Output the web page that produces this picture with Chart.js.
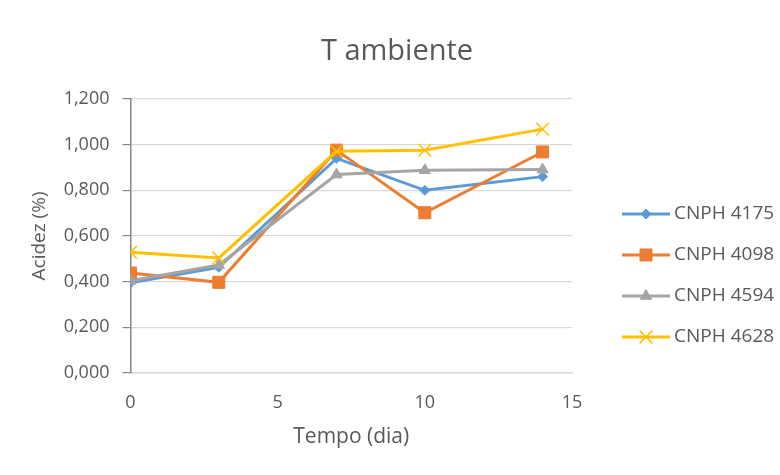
<!DOCTYPE html>
<html>
<head>
<meta charset="utf-8">
<script src="https://cdn.jsdelivr.net/npm/chart.js@4/dist/chart.umd.min.js"></script>
<style>
  html, body { margin: 0; padding: 0; background: #ffffff; }
  #wrap { width: 780px; height: 475px; }
</style>
</head>
<body>
<div id="wrap"><canvas id="c" width="780" height="475"></canvas></div>
<script>
// Days of storage (x axis)
const days = [0, 3, 7, 10, 14];

// Acidity (%) per cultivar
const cnph4175 = [0.395, 0.463, 0.940, 0.800, 0.860];
const cnph4098 = [0.438, 0.397, 0.976, 0.702, 0.968];
const cnph4594 = [0.404, 0.473, 0.869, 0.888, 0.891];
const cnph4628 = [0.529, 0.504, 0.971, 0.976, 1.068];

const seriesNames = ['CNPH 4175', 'CNPH 4098', 'CNPH 4594', 'CNPH 4628'];
const yTicks = [0, 0.2, 0.4, 0.6, 0.8, 1.0, 1.2];
const xTicks = [0, 5, 10, 15];
const chartTitle = 'T ambiente';

const FONT = '"Open Sans", "DejaVu Sans", sans-serif';
const TEXT = '#595959';

function pts(vals) {
  return days.map((d, i) => ({ x: d, y: vals[i] }));
}

const styles = [
  { color: '#5B9BD5', pointStyle: 'rectRot', radius: 5 },
  { color: '#ED7D31', pointStyle: 'rect', radius: 8.5 },
  { color: '#A5A5A5', pointStyle: 'triangle', radius: 6.5 },
  { color: '#FFC000', pointStyle: 'crossRot', radius: 9 }
];

const values = [cnph4175, cnph4098, cnph4594, cnph4628];

const datasets = values.map((v, i) => ({
  label: seriesNames[i],
  data: pts(v),
  borderColor: styles[i].color,
  backgroundColor: styles[i].color,
  pointBackgroundColor: styles[i].color,
  pointBorderColor: styles[i].color,
  pointStyle: styles[i].pointStyle,
  pointRadius: styles[i].radius,
  pointBorderWidth: styles[i].pointStyle === 'crossRot' ? 1.5 : 1,
  borderWidth: 3,
  tension: 0,
  order: values.length - i
}));

// Title centred over the whole figure, legend on the right
// (short line with the marker in the middle)
const decorations = {
  id: 'decorations',
  afterDraw(chart) {
    const ctx = chart.ctx;
    ctx.save();
    ctx.fillStyle = TEXT;
    ctx.font = '29px ' + FONT;
    ctx.textAlign = 'center';
    ctx.textBaseline = 'alphabetic';
    ctx.fillText(chartTitle, 397, 60);

    const x0 = 622, x1 = 670, top = 214, step = 41;
    chart.data.datasets.forEach((ds, i) => {
      const y = top + i * step;
      ctx.strokeStyle = ds.borderColor;
      ctx.lineWidth = 3;
      ctx.beginPath();
      ctx.moveTo(x0, y);
      ctx.lineTo(x1, y);
      ctx.stroke();
      ctx.fillStyle = ds.pointBackgroundColor;
      ctx.strokeStyle = ds.pointBorderColor;
      ctx.lineWidth = ds.pointBorderWidth;
      Chart.helpers.drawPoint(ctx, { pointStyle: ds.pointStyle, radius: ds.pointRadius, rotation: 0, borderWidth: ds.pointBorderWidth }, (x0 + x1) / 2, y);
      ctx.fillStyle = TEXT;
      ctx.font = '19px ' + FONT;
      ctx.textAlign = 'left';
      ctx.textBaseline = 'middle';
      ctx.fillText(ds.label, x1 + 4, y);
    });
    ctx.restore();
  }
};

new Chart(document.getElementById('c'), {
  type: 'line',
  data: { datasets },
  plugins: [decorations],
  options: {
    responsive: false,
    animation: false,
    devicePixelRatio: 1,
    layout: { padding: { left: 0, right: 208, top: 99, bottom: 25 } },
    plugins: {
      legend: { display: false },
      tooltip: { enabled: false },
      title: { display: false }
    },
    scales: {
      x: {
        type: 'linear',
        min: 0,
        max: 15,
        afterBuildTicks(scale) { scale.ticks = xTicks.map(v => ({ value: v })); },
        afterFit(scale) { scale.height = 77; },
        grid: { display: false, drawTicks: false },
        border: { display: true, color: '#D9D9D9', width: 1.5 },
        ticks: {
          color: TEXT,
          font: { family: FONT, size: 18 },
          padding: 19,
          maxRotation: 0
        },
        title: {
          display: true,
          text: 'Tempo (dia)',
          color: TEXT,
          font: { family: FONT, size: 21 },
          padding: { top: 0, bottom: 0 }
        }
      },
      y: {
        min: 0,
        max: 1.2,
        afterBuildTicks(scale) { scale.ticks = yTicks.map(v => ({ value: v })); },
        afterFit(scale) { scale.width = 130.5; },
        grid: {
          color: '#D9D9D9',
          lineWidth: 1.2,
          tickColor: '#868686',
          tickLength: 8
        },
        border: { display: true, color: '#868686', width: 1.5 },
        ticks: {
          color: TEXT,
          font: { family: FONT, size: 18 },
          padding: 13,
          callback: v => v.toFixed(3).replace('.', ',')
        },
        title: {
          display: true,
          text: 'Acidez (%)',
          color: TEXT,
          font: { family: FONT, size: 19 },
          padding: { top: 28, bottom: 0 }
        }
      }
    }
  }
});
</script>
</body>
</html>
